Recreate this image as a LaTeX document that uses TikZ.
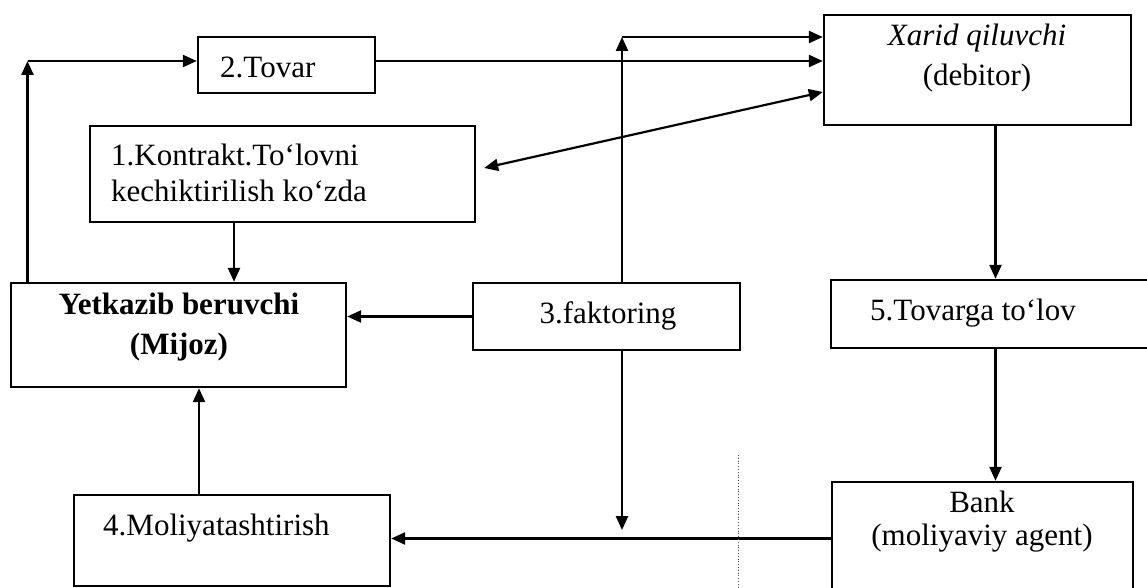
\documentclass[tikz,border=0pt]{standalone}
\usepackage{fontspec}
\setmainfont{Liberation Serif}
\usetikzlibrary{arrows.meta}
\begin{document}
\begin{tikzpicture}[x=1pt,y=-1pt,
  box/.style={draw, line width=2.4pt, inner sep=0pt},
  lbl/.style={inner sep=0pt, font=\fontsize{31}{36}\selectfont},
  arr/.style={line width=2.4pt, -{Triangle[length=14pt,width=12pt]}},
  arrb/.style={line width=2.2pt, {Triangle[length=14pt,width=12pt]}-{Triangle[length=14pt,width=12pt]}}]
\useasboundingbox (0,0) rectangle (1147,588);
\fill[white] (0,0) rectangle (1147,588);
\clip (0,0) rectangle (1147,588);

% boxes
\node[box, minimum width=177pt, minimum height=56pt] (tovar) at (286.5,65) {};
\node[box, minimum width=385pt, minimum height=96pt] (kontr) at (282.5,174) {};
\node[box, minimum width=307pt, minimum height=110pt] (xarid) at (977.5,70) {};
\node[box, minimum width=335pt, minimum height=104pt] (yetk) at (178.5,335) {};
\node[box, minimum width=267pt, minimum height=67pt] (fakt) at (606.5,316.5) {};
\node[box, minimum width=329pt, minimum height=68pt] (tolov) at (995.5,314) {};
\node[box, minimum width=301pt, minimum height=113pt] (bank) at (982.5,538.5) {};
\node[box, minimum width=316pt, minimum height=91pt] (moliy) at (232,540.5) {};

% texts
\node[lbl, anchor=base west] (tTovar) at (220,78) {2.Tovar};
\node[lbl, anchor=west, align=left] (tKontr) at (111,173) {1.Kontrakt.To‘lovni\\kechiktirilish ko‘zda};
\node[lbl, align=center, font=\fontsize{31}{40}\selectfont] (tXarid) at (977,58) {\textit{Xarid qiluvchi}\\(debitor)};
\node[lbl, align=center, font=\fontsize{31}{40}\selectfont\bfseries] (tYetk) at (179,327) {Yetkazib beruvchi\\(Mijoz)};
\node[lbl, anchor=base] (tFakt) at (608,323) {3.faktoring};
\node[lbl, anchor=base west] (tTolov) at (870,320) {5.Tovarga to‘lov};
\node[lbl, align=center, font=\fontsize{31}{33}\selectfont] (tBank) at (982,522) {Bank\\(moliyaviy agent)};
\node[lbl, anchor=base west] (tMoliy) at (103,535) {4.Moliyatashtirish};

% connector corners
\coordinate (c1) at (27.5,61);
\coordinate (c2) at (622,37);
\coordinate (c3) at (622,530);

% connectors
\draw[arr] (c1 |- yetk.north) -- (c1);
\draw[arr] (c1) -- (c1 -| tovar.west);
\draw[arr] (c1 -| tovar.east) -- (c1 -| xarid.west);
\draw[arr] (c2 |- fakt.north) -- (c2);
\draw[arr] (c2) -- (c2 -| xarid.west);
\draw[arr] (c2 |- fakt.south) -- (c3);
\draw[arrb] ([yshift=-22pt]xarid.west) -- ([xshift=8pt,yshift=6pt]kontr.east);
\draw[arr] ([xshift=-48.5pt]kontr.south) -- ([xshift=-48.5pt]kontr.south |- yetk.north);
\draw[arr] (fakt.west) -- (fakt.west -| yetk.east);
\draw[arr] ([xshift=-33pt]moliy.north) -- ([xshift=-33pt]moliy.north |- yetk.south);
\draw[arr] (bank.west) -- (bank.west -| moliy.east);
\draw[arr] (xarid.south -| tolov.north) -- (tolov.north);
\draw[arr] (tolov.south) -- (tolov.south |- bank.north);

% faint dotted scan line
\draw[line width=0.8pt, dotted, black!70] (738,455) -- (738,588);
\end{tikzpicture}
\end{document}
